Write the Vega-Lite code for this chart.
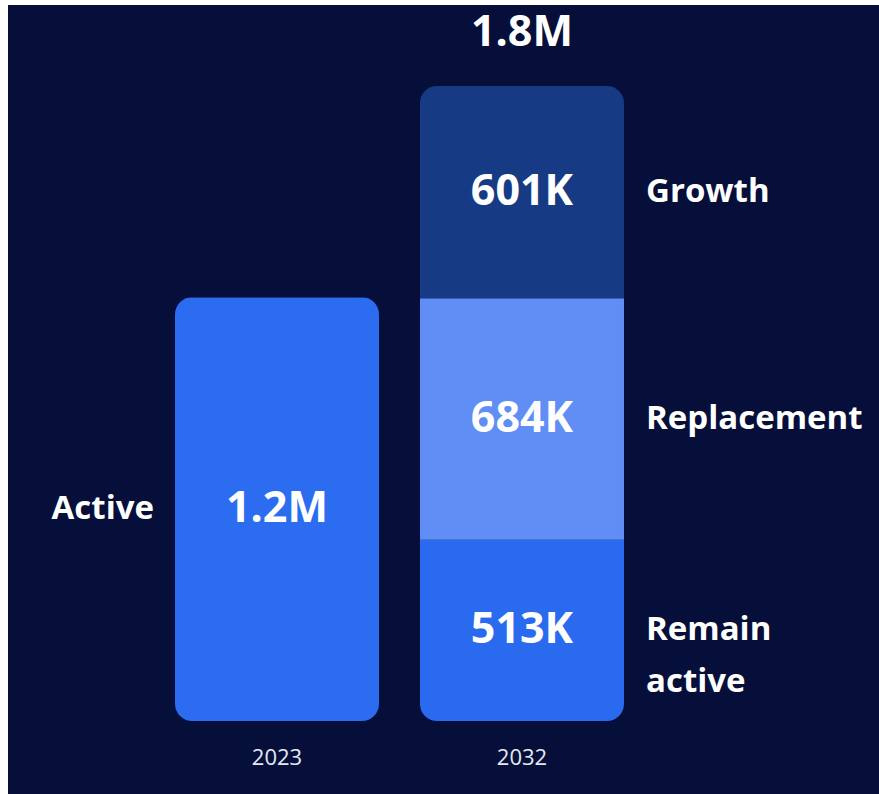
{
  "$schema": "https://vega.github.io/schema/vega-lite/v6.json",
  "width": 871,
  "height": 789,
  "autosize": "none",
  "padding": {"left": 8, "top": 5, "right": 0, "bottom": 0},
  "background": "#ffffff",
  "config": {"view": {"fill": "#050f3a", "stroke": null}, "font": "Open Sans"},
  "datasets": {
    "segments": [
      {"year": "2023", "segment": "Active", "order": 1, "value": 1200, "label": "1.2M", "side": "Active"},
      {"year": "2032", "segment": "Remain active", "order": 1, "value": 513, "label": "513K", "side": "Remain\nactive"},
      {"year": "2032", "segment": "Replacement", "order": 2, "value": 684, "label": "684K", "side": "Replacement"},
      {"year": "2032", "segment": "Growth", "order": 3, "value": 601, "label": "601K", "side": "Growth"}
    ],
    "totals": [
      {"year": "2032", "total": 1798, "label": "1.8M"}
    ]
  },
  "layer": [
    {
      "data": {"name": "segments"},
      "mark": {"type": "bar", "cornerRadius": 17},
      "encoding": {
        "x": {
          "field": "year", "type": "nominal",
          "scale": {"domain": ["2023", "2032"], "range": [167, 616], "paddingInner": 0.1673, "paddingOuter": 0},
          "axis": {"title": null, "labelAngle": 0, "ticks": false, "domain": false, "labelFontSize": 22, "labelColor": "#e4e8f3", "labelPadding": 0, "labelBaseline": "middle", "offset": -37, "labelFont": "Open Sans"}
        },
        "y": {
          "field": "value", "type": "quantitative", "stack": "zero",
          "scale": {"domain": [0, 1798], "range": [716, 81], "nice": false, "zero": true},
          "axis": null
        },
        "order": {"field": "order", "type": "quantitative", "sort": "ascending"},
        "color": {
          "field": "segment", "type": "nominal",
          "scale": {"domain": ["Active", "Remain active", "Replacement", "Growth"], "range": ["#2b6cf0", "#2a6aef", "#608ef4", "#173a84"]},
          "legend": null
        }
      }
    },
    {
      "data": {"name": "segments"},
      "transform": [
        {"stack": "value", "groupby": ["year"], "sort": [{"field": "order", "order": "ascending"}], "as": ["y0", "y1"]},
        {"calculate": "(datum.y0 + datum.y1) / 2", "as": "mid"}
      ],
      "layer": [
        {
          "mark": {"type": "text", "color": "#ffffff", "fontSize": 43, "fontWeight": "bold", "baseline": "middle", "align": "center"},
          "encoding": {
            "x": {"field": "year", "type": "nominal"},
            "y": {"field": "mid", "type": "quantitative"},
            "text": {"field": "label"}
          }
        },
        {
          "transform": [{"filter": "datum.year == '2032'"}],
          "mark": {"type": "text", "color": "#ffffff", "fontSize": 33, "fontWeight": "bold", "baseline": "middle", "align": "left", "dx": 22, "lineBreak": "\n", "lineHeight": 52},
          "encoding": {
            "x": {"field": "year", "type": "nominal", "bandPosition": 1},
            "y": {"field": "mid", "type": "quantitative"},
            "text": {"field": "side"}
          }
        },
        {
          "transform": [{"filter": "datum.year == '2023'"}],
          "mark": {"type": "text", "color": "#ffffff", "fontSize": 33, "fontWeight": "bold", "baseline": "middle", "align": "right", "dx": -21},
          "encoding": {
            "x": {"field": "year", "type": "nominal", "bandPosition": 0},
            "y": {"field": "mid", "type": "quantitative"},
            "text": {"field": "side"}
          }
        }
      ]
    },
    {
      "data": {"name": "totals"},
      "mark": {"type": "text", "color": "#ffffff", "fontSize": 43, "fontWeight": "bold", "baseline": "middle", "align": "center", "dy": -53},
      "encoding": {
        "x": {"field": "year", "type": "nominal"},
        "y": {"field": "total", "type": "quantitative"},
        "text": {"field": "label"}
      }
    }
  ]
}
